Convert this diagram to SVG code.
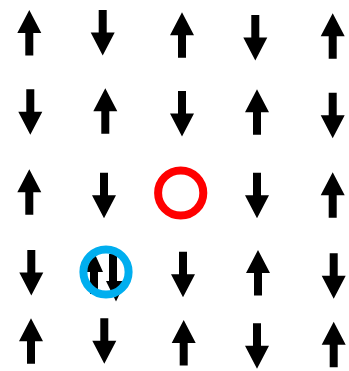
<svg xmlns="http://www.w3.org/2000/svg" xmlns:xlink="http://www.w3.org/1999/xlink" width="349" height="371" viewBox="0 0 349 371">
<defs>
<style>
.a{fill:#000}
.ring{fill:none;stroke-width:8}
</style>
<polygon id="up" class="a" points="0,0 12,23 4,23 4,45.5 -4,45.5 -4,23 -12,23"/>
<polygon id="dn" class="a" points="0,45.5 12,22.5 4,22.5 4,0 -4,0 -4,22.5 -12,22.5"/>
</defs>
<rect width="349" height="371" fill="#fff"/>
<g id="row1">
<g id="s11"><use href="#up" x="29.3" y="10"/></g>
<g id="s12"><use href="#dn" x="102.7" y="10"/></g>
<g id="s13"><use href="#up" x="182" y="12.3"/></g>
<g id="s14"><use href="#dn" x="255.3" y="15"/></g>
<g id="s15"><use href="#up" x="332.7" y="13.3"/></g>
</g>
<g id="row2">
<g id="s21"><use href="#dn" x="30.3" y="89.3"/></g>
<g id="s22"><use href="#up" x="105.3" y="88.3"/></g>
<g id="s23"><use href="#dn" x="182" y="91"/></g>
<g id="s24"><use href="#up" x="257" y="89.3"/></g>
<g id="s25"><use href="#dn" x="332.7" y="92.7"/></g>
</g>
<g id="row3">
<g id="s31"><use href="#up" x="29.3" y="169.3"/></g>
<g id="s32"><use href="#dn" x="104" y="172.7"/></g>
<g id="hole"><circle class="ring" cx="180.7" cy="193" r="22.6" stroke="#ff0000"/></g>
<g id="s34"><use href="#dn" x="257" y="172.7"/></g>
<g id="s35"><use href="#up" x="332.7" y="172.3"/></g>
</g>
<g id="row4">
<g id="s41"><use href="#dn" x="31.3" y="250"/></g>
<g id="doublon">
<polygon class="a" points="94,252 103,272 98,272 98,294 90,294 90,272 85,272"/>
<polygon class="a" points="116,301.5 126,281 117,281 117,254 109,254 109,281 106,281"/>
<circle class="ring" cx="106" cy="272" r="22.6" stroke="#00AEEF"/>
</g>
<g id="s43"><use href="#dn" x="183" y="251.7"/></g>
<g id="s44"><use href="#up" x="258" y="250"/></g>
<g id="s45"><use href="#dn" x="333.7" y="253.3"/></g>
</g>
<g id="row5">
<g id="s51"><use href="#up" x="31" y="318.3"/></g>
<g id="s52"><use href="#dn" x="104.3" y="318.3"/></g>
<g id="s53"><use href="#up" x="183.7" y="320"/></g>
<g id="s54"><use href="#dn" x="257" y="323.3"/></g>
<g id="s55"><use href="#up" x="333.7" y="321.7"/></g>
</g>
<g id="connectors"/>
</svg>
